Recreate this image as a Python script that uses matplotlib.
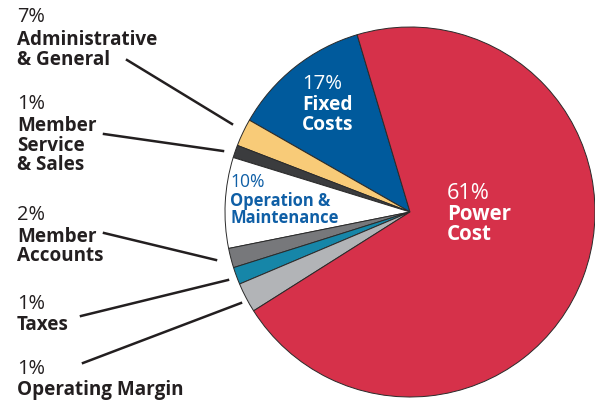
import matplotlib.pyplot as plt

# slice shares as drawn, counterclockwise from the top
names = ["Fixed Costs", "Administrative & General", "Member Service & Sales",
         "Operation & Maintenance", "Member Accounts", "Taxes",
         "Operating Margin", "Power Cost"]
shares = [12.1, 2.4, 1.1, 7.9, 1.7, 1.5, 2.6, 70.5]
pct_labels = ["17%", "7%", "1%", "10%", "2%", "1%", "1%", "61%"]
colors = ["#005A9C", "#F8CB78", "#3B3C3E", "#FFFFFF", "#77787B", "#1686A8",
          "#B2B4B7", "#D6314A"]

plt.rcParams['font.family'] = ['Open Sans', 'DejaVu Sans']
dark = "#231F20"

fig = plt.figure(figsize=(5.95, 4.02), dpi=100)
W, H = 595, 402
cx, cy, r = 410, 213, 185
ax = fig.add_axes([(cx - r) / W, (H - cy - r) / H, 2 * r / W, 2 * r / H])
ax.pie(shares, colors=colors, startangle=106.6, counterclock=True, radius=1,
       wedgeprops=dict(edgecolor="#2a2a2a", linewidth=0.7))
ax.set_xlim(-1, 1)
ax.set_ylim(-1, 1)
ax.axis('off')


def px(x, y):
    return x / W, 1 - y / H


def block(x, ys, lines, color, size):
    for (txt, bold), y in zip(lines, ys):
        fig.text(*px(x, y - (0 if bold else 1)), txt, color=color,
                 fontsize=size if bold else size * 1.06,
                 va='center', ha='left', fontweight='bold' if bold else 'normal')


# outside labels
fs = 13.6
block(17, [18, 40, 60], [(pct_labels[1], False), ("Administrative", True), ("& General", True)], dark, fs)
block(17, [105, 126, 146, 165], [(pct_labels[2], False), ("Member", True), ("Service", True), ("& Sales", True)], dark, fs)
block(17, [216, 237, 256], [(pct_labels[4], False), ("Member", True), ("Accounts", True)], dark, fs)
block(17, [305, 325], [(pct_labels[5], False), ("Taxes", True)], dark, fs)
block(17, [370, 390], [(pct_labels[6], False), ("Operating Margin", True)], dark, fs)

# inside labels
block(302, [85, 105, 125], [(pct_labels[0], False), ("Fixed", True), ("Costs", True)], "white", 13.8)
block(447, [195, 215, 235], [(pct_labels[7], False), ("Power", True), ("Cost", True)], "white", 14.8)
block(230, [183, 201, 218], [(pct_labels[3], False), ("Operation &", True), ("Maintenance", True)], "#0F5FA6", 11.9)

# leader lines
leaders = [((127, 61), (232, 125)), ((104, 135), (223, 152)), ((104, 234), (216, 261)),
           ((81, 317), (228, 281)), ((83, 364), (241, 304))]
for (x0, y0), (x1, y1) in leaders:
    fig.add_artist(plt.Line2D([x0 / W, x1 / W], [1 - y0 / H, 1 - y1 / H],
                              color=dark, linewidth=1.8, transform=fig.transFigure))

fig.savefig("out.png", dpi=100)
